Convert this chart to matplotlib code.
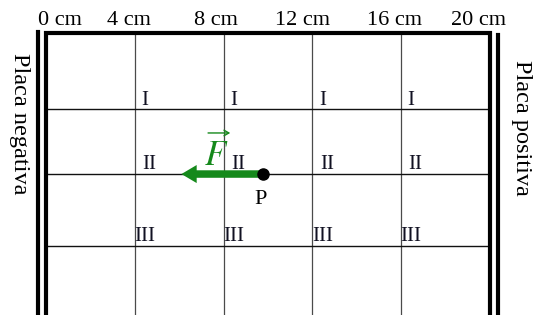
import matplotlib
matplotlib.use("Agg")
import matplotlib.pyplot as plt

# grid in cm (x) and rows (y, same scale, downward)
x_lines = [4, 8, 12, 16]
plate_left, plate_right = 0, 20
row_lines = [3.42, 6.35, 9.6]
top_y = 0.0
bottom_y = 13.5

tick_labels = ["0 cm", "4 cm", "8 cm", "12 cm", "16 cm", "20 cm"]
tick_pos = [0.63, 3.74, 7.66, 11.55, 15.68, 19.5]

row_names = ["I", "II", "III"]
row_label_y = [3.05, 5.9, 9.15]
row_label_dx = [0.45, 0.65, 0.45]

p_x, p_y = 9.77, 6.35
tip_x = 6.1

green = "#15891b"

fig = plt.figure(figsize=(5.34, 3.15), dpi=100)
ax = fig.add_axes([0, 0, 1, 1])
ax.set_xlim(-2.07, 21.98)
ax.set_ylim(12.7, -1.49)
ax.axis("off")

plt.rcParams["mathtext.fontset"] = "stix"
serif = "Liberation Serif"
fs = 15

# interior grid
for x in x_lines:
    ax.plot([x, x], [top_y, bottom_y], color="#4a4a4a", lw=0.9, zorder=1)
for y in row_lines:
    ax.plot([plate_left, plate_right], [y, y], color="#111111", lw=1.0, zorder=1)

# frame
ax.plot([plate_left, plate_left, plate_right, plate_right],
        [bottom_y, top_y, top_y, bottom_y], color="black", lw=3.0,
        solid_joinstyle="miter", zorder=2)
# plates
ax.plot([-0.34, -0.34], [top_y - 0.05, bottom_y], color="black", lw=3.0, zorder=2)
ax.plot([20.38, 20.38], [top_y + 0.1, bottom_y], color="black", lw=3.0, zorder=2)

for pos, lab in zip(tick_pos, tick_labels):
    ax.text(pos, -0.55, lab, ha="center", va="center", fontsize=16, family=serif)

for name, ly, dx in zip(row_names, row_label_y, row_label_dx):
    for x in x_lines:
        ax.text(x + dx, ly, name, ha="center", va="center", fontsize=fs,
                family=serif, color="#111122")

# force on P
ax.annotate("", xy=(tip_x, p_y), xytext=(p_x, p_y),
            arrowprops=dict(arrowstyle="simple,head_length=0.55,head_width=0.65,tail_width=0.27",
                            lw=0, color=green, mutation_scale=20,
                            shrinkA=0, shrinkB=0), zorder=4)
ax.plot([p_x], [p_y], "o", color="black", markersize=8, zorder=5)
ax.text(p_x - 0.1, 7.5, "P", ha="center", va="center", fontsize=16, family=serif)

# vector F label
ax.text(7.66, 5.95, r"$F$", ha="center", va="baseline", fontsize=25, color=green)
ax.annotate("", xy=(8.3, 4.5), xytext=(7.3, 4.5),
            arrowprops=dict(arrowstyle="->,head_length=0.35,head_width=0.2",
                            lw=1.0, color=green, shrinkA=0, shrinkB=0))

ax.text(-1.17, 4.1, "Placa negativa", rotation=270, ha="center", va="center",
        fontsize=17.5, family=serif)
ax.text(21.4, 4.28, "Placa positiva", rotation=270, ha="center", va="center",
        fontsize=17.5, family=serif)

fig.savefig("out.png", dpi=100)
